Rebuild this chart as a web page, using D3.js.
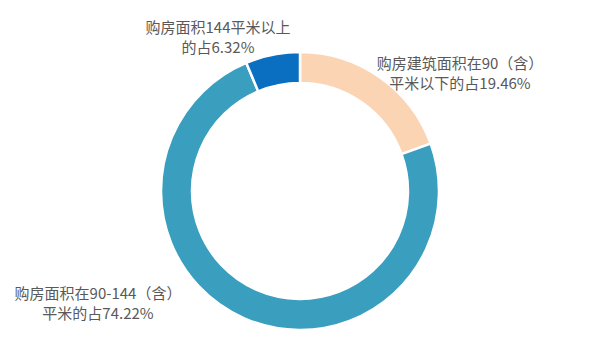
<!DOCTYPE html>
<html><head><meta charset="utf-8">
<script src="https://cdn.jsdelivr.net/npm/d3@7"></script>
<style>body{margin:0;background:#fff}svg{display:block}</style>
</head><body>
<svg id="c" width="600" height="358"></svg>
<script>
const categories = ["90平米以下", "90-144平米", "144平米以上"];
const values = [19.46, 74.22, 6.32];
const colors = ["#FBD4B4", "#3A9EBF", "#0A6FC0"];
const labelLines = [
  ["购房建筑面积在90（含）", "平米以下的占19.46%"],
  ["购房面积在90-144（含）", "平米的占74.22%"],
  ["购房面积144平米以上", "的占6.32%"]
];
const labelPos = [[460, 69], [98, 299], [218, 33]];

const svg = d3.select("#c");
const cx = 300, cy = 191, rOuter = 139, rInner = 108;
const pie = d3.pie().sort(null).value(d => d)(values);
const arc = d3.arc().innerRadius(rInner).outerRadius(rOuter);
const g = svg.append("g").attr("transform", `translate(${cx},${cy})`);
g.selectAll("path").data(pie).join("path")
  .attr("d", arc)
  .attr("fill", (d, i) => colors[i])
  .attr("stroke", "#fff").attr("stroke-width", 2.5);

const lg = svg.append("g").attr("font-family", "'Noto Sans CJK SC', 'Noto Sans', sans-serif")
  .attr("font-size", 15).attr("fill", "#595959").attr("text-anchor", "middle");
labelLines.forEach((lines, i) => {
  lines.forEach((s, j) => {
    lg.append("text").attr("x", labelPos[i][0]).attr("y", labelPos[i][1] + j * 20).text(s);
  });
});
</script>
</body></html>
